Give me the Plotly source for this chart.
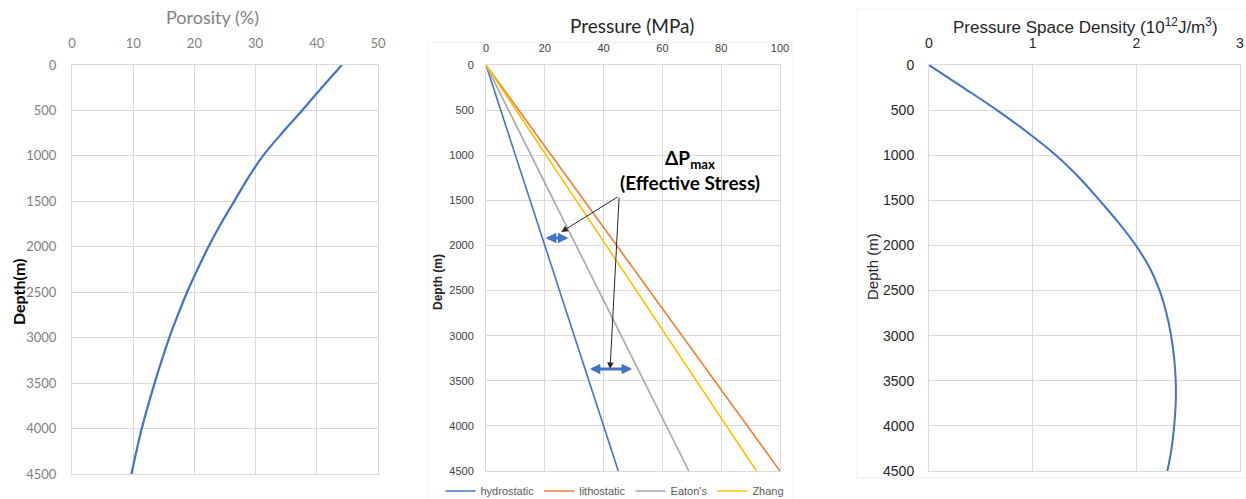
import plotly.graph_objects as go

# ---- data -------------------------------------------------------------
por_depth = [0, 250, 500, 750, 1000, 1250, 1500, 1750, 2000, 2250, 2500, 2750,
             3000, 3500, 4000, 4500]
porosity = [44.1, 40.8, 37.6, 34.3, 31.2, 28.7, 26.5, 24.3, 22.3, 20.5, 18.8, 17.3,
            15.9, 13.5, 11.4, 9.7]

p_depth = [0, 4500]
hydrostatic = [0, 45]
lithostatic = [0, 100]
eatons = [0, 69]
zhang = [0, 92]

psd_depth = [0, 250, 500, 750, 1000, 1250, 1500, 1750, 2000, 2250, 2500, 2750,
             3000, 3250, 3500, 3750, 4000, 4250, 4500]
psd = [0, 0.33, 0.655, 0.955, 1.225, 1.45, 1.645, 1.83, 1.995, 2.13, 2.225, 2.29,
       2.335, 2.365, 2.38, 2.38, 2.365, 2.34, 2.30]

por_ticks = [0, 10, 20, 30, 40, 50]
p_ticks = [0, 20, 40, 60, 80, 100]
psd_ticks = [0, 1, 2, 3]
depth_ticks = list(range(0, 4501, 500))

# ---- layout helpers (pixel -> paper) ----------------------------------
W, H = 1246, 499


def xd(a, b):
    return [a / W, b / W]


def yd(top, bottom):
    return [1 - bottom / H, 1 - top / H]


BLUE = "#4472C4"
ORANGE = "#ED7D31"
GRAY = "#A5A5A5"
GOLD = "#FFC000"
GRID = "#D9D9D9"
CAL = "Lato, Carlito, Calibri, sans-serif"
ARIAL = "Liberation Sans, Arial, sans-serif"

fig = go.Figure()

fig.add_trace(go.Scatter(x=porosity, y=por_depth, mode="lines", xaxis="x", yaxis="y",
                         line=dict(color=BLUE, width=2.2, shape="spline", smoothing=0.8),
                         showlegend=False))

for name, vals, col in [("hydrostatic", hydrostatic, BLUE), ("lithostatic", lithostatic, ORANGE),
                        ("Eaton's", eatons, GRAY), ("Zhang", zhang, GOLD)]:
    fig.add_trace(go.Scatter(x=vals, y=p_depth, mode="lines", name=name, xaxis="x2", yaxis="y2",
                             line=dict(color=col, width=1.6), cliponaxis=True))

fig.add_trace(go.Scatter(x=psd, y=psd_depth, mode="lines", xaxis="x3", yaxis="y3",
                         line=dict(color=BLUE, width=2, shape="spline", smoothing=1.0),
                         showlegend=False))

common_x = dict(side="top", showgrid=True, gridcolor=GRID, gridwidth=1, zeroline=False,
                showline=True, mirror=True, linecolor=GRID, ticks="", fixedrange=True)
common_y = dict(range=[4500, 0], tickvals=depth_ticks, showgrid=True, gridcolor=GRID,
                gridwidth=1, zeroline=False, showline=True, mirror=True, linecolor=GRID,
                ticks="", fixedrange=True)

fig.update_layout(
    width=W, height=H, autosize=False,
    margin=dict(l=0, r=0, t=0, b=0, autoexpand=False),
    paper_bgcolor="white", plot_bgcolor="white",
    xaxis=dict(common_x, domain=xd(72, 378), range=[0, 50], tickvals=por_ticks, anchor="y",
               tickfont=dict(family=CAL, size=13, color="#7F7F7F"), ticklabelstandoff=11),
    yaxis=dict(common_y, domain=yd(65, 474), anchor="x",
               tickfont=dict(family=CAL, size=13, color="#7F7F7F"), ticklabelstandoff=12),
    xaxis2=dict(common_x, domain=xd(486, 780), range=[0, 100], tickvals=p_ticks, anchor="y2",
                tickfont=dict(family=ARIAL, size=11, color="#404040"), ticklabelstandoff=8),
    yaxis2=dict(common_y, domain=yd(65, 471), anchor="x2",
                tickfont=dict(family=ARIAL, size=11, color="#404040"), ticklabelstandoff=9),
    xaxis3=dict(common_x, domain=xd(929, 1240), range=[0, 3], tickvals=psd_ticks, anchor="y3",
                tickfont=dict(family=ARIAL, size=14, color="#262626"), ticklabelstandoff=10),
    yaxis3=dict(common_y, domain=yd(65, 471), anchor="x3",
                tickfont=dict(family=ARIAL, size=14, color="#262626"), ticklabelstandoff=11),
    legend=dict(orientation="h", x=615 / W, xanchor="center", y=1 - 491 / H, yanchor="middle",
                font=dict(family=ARIAL, size=11, color="#595959"), bgcolor="rgba(0,0,0,0)",
                itemwidth=30, tracegroupgap=0),
)

# faint chart-area frames
fig.add_shape(type="rect", xref="paper", yref="paper", x0=428 / W, x1=793 / W,
              y0=-0.01, y1=1 - 42 / H, line=dict(color="#F0F0F0", width=1), layer="below")
fig.add_shape(type="rect", xref="paper", yref="paper", x0=857 / W, x1=1.01,
              y0=1 - 478 / H, y1=1 - 9 / H, line=dict(color="#F0F0F0", width=1), layer="below")

# titles
titles = [
    ("Porosity (%)", 212, 17, CAL, 18, "#7F7F7F", 0),
    ("Pressure (MPa)", 632, 25, CAL, 19, "#262626", 0),
    ("Pressure Space Density (10<sup>12</sup>J/m<sup>3</sup>)", 1085, 26, ARIAL, 17, "#262626", 0),
    ("<b>Depth(m)</b>", 18, 292, CAL, 16, "#000000", -90),
    ("<b>Depth (m)</b>", 438, 282, ARIAL, 12, "#262626", -90),
    ("Depth (m)", 872, 267, ARIAL, 15, "#262626", -90),
]
for text, px, py, fam, size, col, ang in titles:
    fig.add_annotation(text=text, x=px / W, y=1 - py / H, xref="paper", yref="paper",
                       xanchor="center", yanchor="middle", showarrow=False, textangle=ang,
                       font=dict(family=fam, size=size, color=col))

# effective-stress callout
fig.add_annotation(text="<b>ΔP<sub>max</sub></b><br><b>(Effective Stress)</b>",
                   x=690 / W, y=1 - 170 / H, xref="paper", yref="paper",
                   xanchor="center", yanchor="middle", showarrow=False, align="center",
                   font=dict(family=CAL, size=19, color="#000000"))

callout_tail = (45.3, 1452)
callout_tips = [(25.6, 1851), (42.2, 3369)]
for tx, ty in callout_tips:
    fig.add_annotation(x=tx, y=ty, xref="x2", yref="y2", ax=callout_tail[0], ay=callout_tail[1],
                       axref="x2", ayref="y2", text="", showarrow=True, arrowhead=2,
                       arrowsize=1.3, arrowwidth=1, arrowcolor="#262626", standoff=0)

gap_arrows = [(19.8, 28.0, 1917), (34.8, 49.7, 3369)]
for x0, x1, d in gap_arrows:
    fig.add_annotation(x=x1, y=d, xref="x2", yref="y2", ax=x0, ay=d, axref="x2", ayref="y2",
                       text="", showarrow=True, arrowhead=2, startarrowhead=2,
                       arrowside="end+start", arrowsize=0.7, startarrowsize=0.7,
                       arrowwidth=3, arrowcolor=BLUE, standoff=0, startstandoff=0)

fig.write_html("out.html")
